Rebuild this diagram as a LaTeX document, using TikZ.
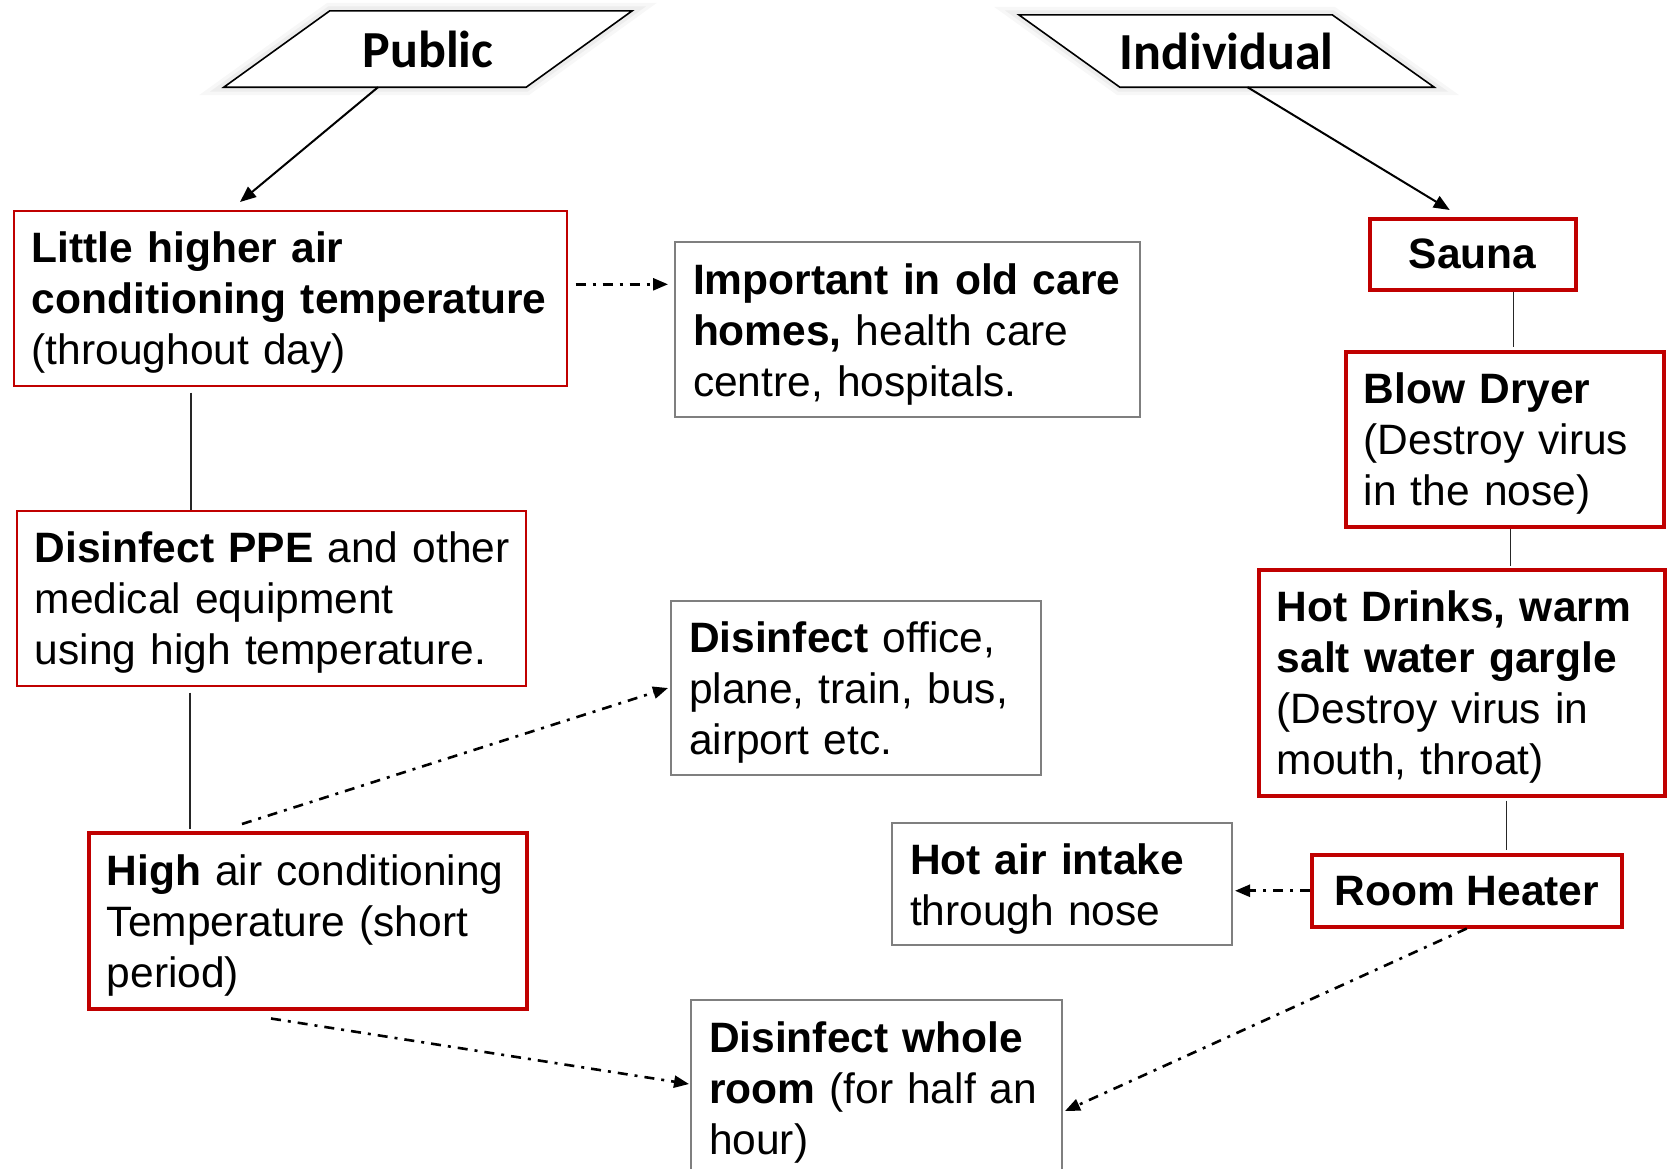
\documentclass[tikz,border=0pt]{standalone}
\usepackage{fontspec}
\setmainfont{Liberation Sans}
\newfontfamily\headfont{Carlito}
\usetikzlibrary{arrows.meta, positioning, backgrounds}
\definecolor{boxred}{RGB}{192, 0, 0}
\definecolor{boxgrey}{RGB}{127, 127, 127}
\tikzset{
  box/.style={fill=white, align=left, anchor=north west, inner xsep=18pt, inner ysep=4pt, font=\fontsize{42.5}{51}\selectfont},
  lowtext/.style={execute at begin node={\rule{0pt}{40pt}}},
  redbox/.style={box, draw=boxred, line width=1.6pt},
  thickbox/.style={box, draw=boxred, line width=3.5pt},
  greybox/.style={box, draw=boxgrey, line width=2pt},
  head/.style={font=\headfont\bfseries\fontsize{52}{60}\selectfont, inner sep=0pt},
  para/.style={draw=black, line width=1.6pt, fill=white,
    preaction={draw=black, line width=16pt, opacity=0.03},
    preaction={draw=black, line width=9pt, opacity=0.04}},
  arr/.style={-{Triangle[length=16pt, width=13pt]}, line width=2pt},
  dasharr/.style={-{Triangle[length=15pt, width=12pt]}, line width=2.6pt, dash pattern=on 10pt off 7pt on 3pt off 7pt},
  link/.style={line width=1.3pt, black!85}
}

\begin{document}
\begin{tikzpicture}[x=1pt, y=-1pt]
  \useasboundingbox (0,0) rectangle (1667,1168);
  % groups
  \node[head, minimum width=408pt, minimum height=76pt] (pub) at (428,49) {Public};
  \node[head, minimum width=415pt, minimum height=72pt] (ind) at (1226.5,51) {Individual};
  \begin{scope}[on background layer]
    \draw[para] ([xshift=106pt]pub.north west) -- (pub.north east) -- ([xshift=-106pt]pub.south east) -- (pub.south west) -- cycle;
    \draw[para] (ind.north west) -- ([xshift=-102pt]ind.north east) -- (ind.south east) -- ([xshift=101pt]ind.south west) -- cycle;
  \end{scope}

  % public side
  \node[redbox, lowtext, text width=517pt, minimum height=175pt] (lh) at (13,210) {\textbf{Little higher air}\\ \textbf{conditioning temperature}\\ (throughout day)};
  \node[greybox, lowtext, text width=429pt, minimum height=175pt] (imp) at (674,241) {\textbf{Important in old care}\\ \textbf{homes,} health care\\ centre, hospitals.};
  \node[redbox, lowtext, text width=473pt, minimum height=175pt] (ppe) at (16,510) {\mbox{\textbf{Disinfect PPE} and other}\\ medical equipment\\ using high temperature.};
  \node[greybox, lowtext, text width=334pt, minimum height=174pt] (office) at (670,600) {\textbf{Disinfect} office,\\ plane, train, bus,\\ airport etc.};
  \node[thickbox, lowtext, text width=402pt, minimum height=176pt] (high) at (87,831) {\textbf{High} air conditioning\\ Temperature (short\\ period)};
  \node[greybox, lowtext, text width=335pt, minimum height=175pt] (room) at (690,999) {\textbf{Disinfect whole}\\ \textbf{room} (for half an\\ hour)};

  % individual side
  \node[thickbox, align=center, minimum width=206pt, minimum height=71pt] (sauna) at (1368,217) {\textbf{Sauna}};
  \node[thickbox, lowtext, text width=282pt, minimum height=175pt] (blow) at (1344,350) {\textbf{Blow Dryer}\\ (Destroy virus\\ in the nose)};
  \node[thickbox, lowtext, text width=370pt, minimum height=226pt] (drinks) at (1257,568) {\textbf{Hot Drinks, warm}\\ \textbf{salt water gargle}\\ (Destroy virus in\\ mouth, throat)};
  \node[thickbox, align=center, minimum width=310pt, minimum height=72pt] (heater) at (1310,853) {\textbf{Room Heater}};
  \node[greybox, lowtext, text width=304pt, minimum height=122pt] (intake) at (891,822) {\textbf{Hot air intake}\\ through nose};

  \draw[arr] ([xshift=-50pt]pub.south) -- ([xshift=227pt, yshift=8pt]lh.north west);
  \draw[arr] ([xshift=21pt]ind.south) -- ([xshift=-23pt, yshift=7pt]sauna.north);

  \draw[link] ([xshift=178pt, yshift=-6pt]lh.south west) -- ([xshift=175pt]ppe.north west);
  \draw[link] ([xshift=174pt, yshift=-6pt]ppe.south west) -- ([xshift=103pt, yshift=2pt]high.north west);
  \draw[link] ([xshift=41pt]sauna.south) -- ([xshift=9pt, yshift=3pt]blow.north);
  \draw[link] ([xshift=6pt]blow.south) -- ([xshift=49pt, yshift=2pt]drinks.north);
  \draw[link] ([xshift=45pt, yshift=-3pt]drinks.south) -- ([xshift=40pt, yshift=3pt]heater.north);

  \draw[dasharr, shorten <=8pt, shorten >=6pt] ([yshift=14pt]lh.east) -- ([yshift=14pt]lh.east -| imp.west);
  \draw[dasharr] ([xshift=155pt, yshift=7pt]high.north west) -- ([xshift=-2pt]office.west);
  \draw[dasharr] ([xshift=184pt, yshift=-8pt]high.south west) -- ([xshift=-1pt, yshift=-85pt]room.north west);
  \draw[dasharr, shorten >=2pt] (heater.west) -- (heater.west -| intake.east);
  \draw[dasharr] (heater.south) -- ([xshift=2pt, yshift=-112pt]room.north east);
\end{tikzpicture}
\end{document}
